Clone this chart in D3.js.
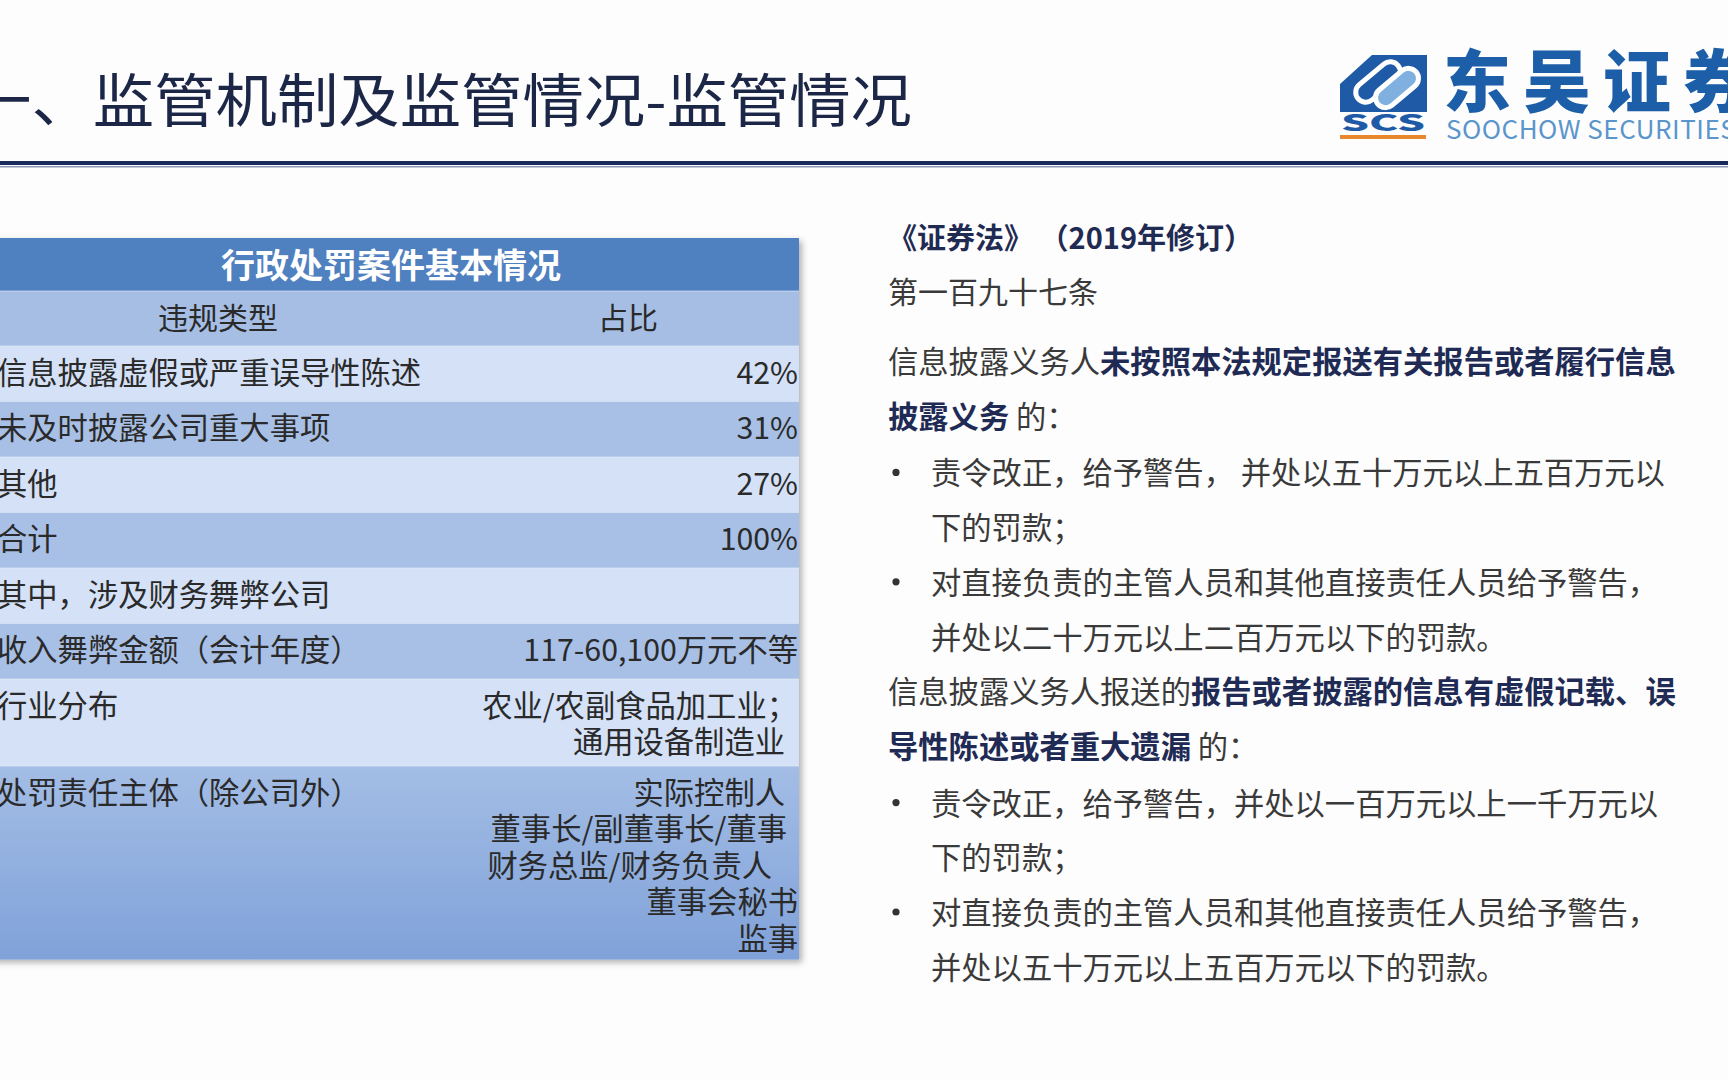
<!DOCTYPE html>
<html><head><meta charset="utf-8">
<script src="https://cdn.jsdelivr.net/npm/d3@7"></script>
<style>
html,body{margin:0;padding:0;background:#fdfdfd;overflow:hidden}
svg{display:block}
text{font-family:"Noto Sans CJK SC","Noto Sans",sans-serif}
</style></head>
<body><svg id="c" width="1728" height="1080"></svg>
<script>
// ---------- data ----------
const slideTitle = "一、监管机制及监管情况-监管情况";
const brandCN = "东吴证券";
const brandEN = "SOOCHOW SECURITIES";
const tableTitle = "行政处罚案件基本情况";
const columnHeaders = ["违规类型", "占比"];
const violationTypes = ["信息披露虚假或严重误导性陈述", "未及时披露公司重大事项", "其他", "合计"];
const violationShares = ["42%", "31%", "27%", "100%"];
const fraudLabels = ["其中，涉及财务舞弊公司", "收入舞弊金额（会计年度）", "行业分布", "处罚责任主体（除公司外）"];
const fraudValues = [
  [],
  ["117-60,100万元不等"],
  ["农业/农副食品加工业；", "通用设备制造业"],
  ["实际控制人", "董事长/副董事长/董事", "财务总监/财务负责人", "董事会秘书", "监事"]
];
const lawTitle = "《证券法》 （2019年修订）";
const lawArticle = "第一百九十七条";
// each line: [bullet?, [[text, bold], ...]]
const lawLines = [
  [false, [["信息披露义务人", false], ["未按照本法规定报送有关报告或者履行信息", true]]],
  [false, [["披露义务", true], [" 的：", false]]],
  [true,  [["责令改正，给予警告， 并处以五十万元以上五百万元以", false]]],
  [null,  [["下的罚款；", false]]],
  [true,  [["对直接负责的主管人员和其他直接责任人员给予警告，", false]]],
  [null,  [["并处以二十万元以上二百万元以下的罚款。", false]]],
  [false, [["信息披露义务人报送的", false], ["报告或者披露的信息有虚假记载、误", true]]],
  [false, [["导性陈述或者重大遗漏", true], [" 的：", false]]],
  [true,  [["责令改正，给予警告，并处以一百万元以上一千万元以", false]]],
  [null,  [["下的罚款；", false]]],
  [true,  [["对直接负责的主管人员和其他直接责任人员给予警告，", false]]],
  [null,  [["并处以五十万元以上五百万元以下的罚款。", false]]]
];

// ---------- drawing ----------
const svg = d3.select("#c");
const defs = svg.append("defs");
const sh = defs.append("filter").attr("id","sh").attr("x","-5%").attr("y","-5%").attr("width","115%").attr("height","115%");
sh.append("feDropShadow").attr("dx",3).attr("dy",3).attr("stdDeviation",3).attr("flood-color","#000").attr("flood-opacity",0.3);
const grad = defs.append("linearGradient").attr("id","lastRow").attr("x1",0).attr("y1",0).attr("x2",0).attr("y2",1);
grad.append("stop").attr("offset","0%").attr("stop-color","#a3bde5");
grad.append("stop").attr("offset","100%").attr("stop-color","#80a2d9");

// title
svg.append("text").attr("x",-30).attr("y",122).attr("font-size",58).attr("fill","#1c2748")
  .attr("textLength",942).attr("lengthAdjust","spacingAndGlyphs").text(slideTitle);
// rule
svg.append("rect").attr("x",0).attr("y",161).attr("width",1728).attr("height",4).attr("fill","#1b2a5c");
svg.append("rect").attr("x",0).attr("y",166).attr("width",1728).attr("height",1.5).attr("fill","#8a95b5");

// logo
const logo = svg.append("g");
logo.append("path").attr("d","M1340,55 L1427,55 L1427,112 L1340,112 Z").attr("fill","#1e5aa6");
logo.append("path").attr("d","M1340,55 L1372,55 L1340,84 Z").attr("fill","#fdfdfd");
logo.append("rect").attr("x",1352).attr("y",72).attr("width",52).attr("height",20).attr("rx",10)
  .attr("transform","rotate(-40 1378 82)").attr("fill","none").attr("stroke","#fff").attr("stroke-width",5);
logo.append("rect").attr("x",1372).attr("y",78).attr("width",50).attr("height",20).attr("rx",10)
  .attr("transform","rotate(-40 1397 88)").attr("fill","#7fb0e0").attr("stroke","#fff").attr("stroke-width",5);
logo.append("text").attr("x",1383).attr("y",131).attr("text-anchor","middle").attr("font-size",22)
  .attr("font-weight",900).attr("fill","#1e5aa6").attr("font-family","DejaVu Sans")
  .attr("textLength",84).attr("lengthAdjust","spacingAndGlyphs").text("SCS");
logo.append("rect").attr("x",1340).attr("y",135).attr("width",86).attr("height",4).attr("fill","#e8872b");
svg.append("text").attr("x",1443).attr("y",107).attr("font-size",68).attr("font-weight",900).attr("fill","#1c5ea8")
  .attr("letter-spacing",12).text(brandCN);
svg.append("text").attr("x",1446).attr("y",139).attr("font-size",26).attr("fill","#5b95cc")
  .attr("font-family","Liberation Sans, Arial").attr("letter-spacing",0.5).text(brandEN);

// ---------- table ----------
const tableX = -10, tableRight = 799, tableTop = 238;
const rows = [];
rows.push({type:"title", lines:1, h:53});
rows.push({type:"colhdr", lines:1, h:55});
violationTypes.forEach((v,i)=>rows.push({type:"v", label:v, vals:[violationShares[i]], lines:1}));
fraudLabels.forEach((v,i)=>rows.push({type:"f", label:v, vals:fraudValues[i], lines:Math.max(1,fraudValues[i].length)}));
rows.forEach(r=>{ if(!r.h) r.h = r.lines===1 ? 55.5 : 16 + r.lines*35.5; });
let yy = tableTop; rows.forEach(r=>{ r.y = yy; yy += r.h; });
const tableBottom = yy;

const tg = svg.append("g");
tg.append("rect").attr("x",tableX).attr("y",tableTop).attr("width",tableRight-tableX).attr("height",tableBottom-tableTop)
  .attr("fill","#a9c1e6").attr("filter","url(#sh)");
const light = "#d4e1f6", mid = "#a8c0e6";
tg.selectAll("rect.row").data(rows).join("rect").attr("class","row")
  .attr("x",tableX).attr("y",d=>d.y).attr("width",tableRight-tableX).attr("height",d=>d.h)
  .attr("fill",(d,i)=> d.type==="title" ? "#4f80c0" : d.type==="colhdr" ? "#a6bee3" :
        (i===rows.length-1 ? "url(#lastRow)" : (i%2===0 ? light : mid)));
tg.selectAll("line.sep").data(rows.slice(1)).join("line").attr("class","sep")
  .attr("x1",tableX).attr("x2",tableRight).attr("y1",d=>d.y).attr("y2",d=>d.y)
  .attr("stroke","#e6eefa").attr("stroke-width",1).attr("opacity",0.6);

const tr = rows[0];
tg.append("text").attr("x",391).attr("y",tr.y+tr.h/2-1).attr("dominant-baseline","central").attr("text-anchor","middle")
  .attr("font-size",34).attr("font-weight",700).attr("fill","#fff").text(tableTitle);
const ch = rows[1];
tg.append("text").attr("x",218).attr("y",ch.y+ch.h/2-3).attr("dominant-baseline","central").attr("text-anchor","middle")
  .attr("font-size",30).attr("fill","#2a2a2a").text(columnHeaders[0]);
tg.append("text").attr("x",628).attr("y",ch.y+ch.h/2-3).attr("dominant-baseline","central").attr("text-anchor","middle")
  .attr("font-size",30).attr("fill","#2a2a2a").text(columnHeaders[1]);

const bodyRows = rows.slice(2);
const rightEdge = {"实际控制人":785,"董事长/副董事长/董事":787,"财务总监/财务负责人":772,"农业/农副食品加工业；":797,"通用设备制造业":785};
bodyRows.forEach(r=>{
  const firstY = r.y + 24.5;
  tg.append("text").attr("x",-3).attr("y",firstY).attr("dominant-baseline","central")
    .attr("font-size",30.3).attr("fill","#2a2a2a").text(r.label);
  r.vals.forEach((v,k)=>{
    tg.append("text").attr("x",rightEdge[v]||798).attr("y",firstY + k*36.5).attr("dominant-baseline","central")
      .attr("text-anchor","end").attr("font-size",30.3).attr("fill","#2a2a2a").text(v);
  });
});

// ---------- right text ----------
const rx = 888, bx = 896, ix = 931;
svg.append("text").attr("x",rx).attr("y",236).attr("dominant-baseline","central").attr("font-size",29)
  .attr("font-weight",700).attr("fill","#1f2b52").attr("xml:space","preserve").text(lawTitle);
svg.append("text").attr("x",rx).attr("y",290).attr("dominant-baseline","central").attr("font-size",30)
  .attr("fill","#3a3a3a").text(lawArticle);
let ly = 360;
lawLines.forEach((ln,i)=>{
  if(i===2 || i===8) ly += 2;
  const isBullet = ln[0]===true, isCont = ln[0]===null;
  const x0 = (isBullet||isCont) ? ix : rx;
  if(isBullet) svg.append("circle").attr("cx",bx).attr("cy",ly+1).attr("r",3.6).attr("fill","#333");
  const t = svg.append("text").attr("x",x0).attr("y",ly).attr("dominant-baseline","central")
    .attr("font-size",30.3).attr("xml:space","preserve");
  ln[1].forEach(s=>{
    t.append("tspan").attr("font-weight",s[1]?700:400).attr("fill",s[1]?"#1f2b55":"#3a3a3a").text(s[0]);
  });
  ly += 54.7;
});
</script></body></html>
